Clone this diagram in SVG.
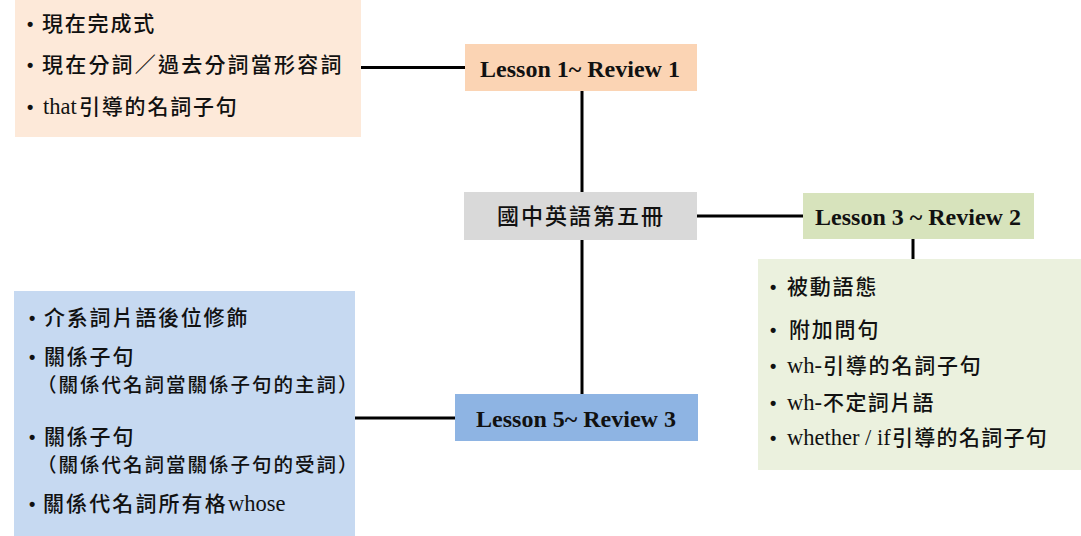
<svg xmlns="http://www.w3.org/2000/svg" width="1081" height="536" viewBox="0 0 1081 536">
<style>
.cjk{font-family:"Noto Sans CJK TC","Noto Sans CJK SC",sans-serif;font-size:21px;font-weight:500;letter-spacing:1.8px;fill:#111}
.par{font-size:19.5px;letter-spacing:2px}
.lat{font-family:"Liberation Serif",serif;font-size:22.5px;fill:#111}
.bul{font-family:"Liberation Sans",sans-serif;font-size:18px;font-weight:bold;fill:#111}
.lbl{font-family:"Liberation Serif",serif;font-weight:bold;font-size:24px;fill:#111;text-anchor:middle}
.conn{stroke:#000;stroke-width:3;fill:none}
</style>
<rect width="1081" height="536" fill="#fff"/>
<g id="connectors">
<line class="conn" x1="361" y1="67.5" x2="465" y2="67.5"/>
<line class="conn" x1="582" y1="91" x2="582" y2="192"/>
<line class="conn" x1="697" y1="216" x2="803" y2="216"/>
<line class="conn" x1="913" y1="239" x2="913" y2="259"/>
<line class="conn" x1="582" y1="240" x2="582" y2="394"/>
<line class="conn" x1="355" y1="418" x2="455" y2="418"/>
</g>
<g id="topics1">
<rect x="15" y="0" width="346" height="137" fill="#fde9d9"/>
<text class="bul" x="27" y="30">•</text>
<text class="cjk" x="42" y="31">現在完成式</text>
<text class="bul" x="27" y="71">•</text>
<text class="cjk" x="42" y="72" style="letter-spacing:2.2px">現在分詞／過去分詞當形容詞</text>
<text class="bul" x="27" y="113">•</text>
<text class="lat" x="43" y="114">that</text>
<text class="cjk" x="79" y="114">引導的名詞子句</text>
</g>
<g id="lesson1">
<rect x="465" y="44" width="232" height="47" fill="#fbd4b4"/>
<text class="lbl" x="580" y="76.5">Lesson 1~ Review 1</text>
</g>
<g id="root">
<rect x="464" y="192" width="233" height="48" fill="#d9d9d9"/>
<text class="cjk" x="581" y="224" text-anchor="middle" style="font-size:22px;letter-spacing:2px">國中英語第五冊</text>
</g>
<g id="lesson3">
<rect x="803" y="193" width="231" height="46" fill="#d7e3bc"/>
<text class="lbl" x="918" y="225">Lesson 3 ~ Review 2</text>
</g>
<g id="topics3">
<rect x="758" y="259" width="323" height="211" fill="#ebf1de"/>
<text class="bul" x="770" y="293">•</text>
<text class="cjk" x="787" y="294">被動語態</text>
<text class="bul" x="770" y="336">•</text>
<text class="cjk" x="789" y="337">附加問句</text>
<text class="bul" x="770" y="372">•</text>
<text class="lat" x="787" y="373">wh-</text>
<text class="cjk" x="823" y="373">引導的名詞子句</text>
<text class="bul" x="770" y="409">•</text>
<text class="lat" x="787" y="410">wh-</text>
<text class="cjk" x="823" y="410" style="letter-spacing:1.4px">不定詞片語</text>
<text class="bul" x="770" y="444">•</text>
<text class="lat" x="787" y="445">whether / if</text>
<text class="cjk" x="892" y="445" style="letter-spacing:1.3px">引導的名詞子句</text>
</g>
<g id="lesson5">
<rect x="455" y="394" width="243" height="47" fill="#8eb4e3"/>
<text class="lbl" x="576" y="427">Lesson 5~ Review 3</text>
</g>
<g id="topics5">
<rect x="14" y="291" width="341" height="245" fill="#c6d9f1"/>
<text class="bul" x="29" y="324">•</text>
<text class="cjk" x="44" y="325">介系詞片語後位修飾</text>
<text class="bul" x="29" y="363">•</text>
<text class="cjk" x="44" y="364">關係子句</text>
<text class="cjk par" x="37" y="392">（關係代名詞當關係子句的主詞）</text>
<text class="bul" x="29" y="443">•</text>
<text class="cjk" x="44" y="444">關係子句</text>
<text class="cjk par" x="37" y="472">（關係代名詞當關係子句的受詞）</text>
<text class="bul" x="29" y="510">•</text>
<text class="cjk" x="43" y="511" style="letter-spacing:2.1px">關係代名詞所有格</text>
<text class="lat" x="228" y="511">whose</text>
</g>
</svg>
